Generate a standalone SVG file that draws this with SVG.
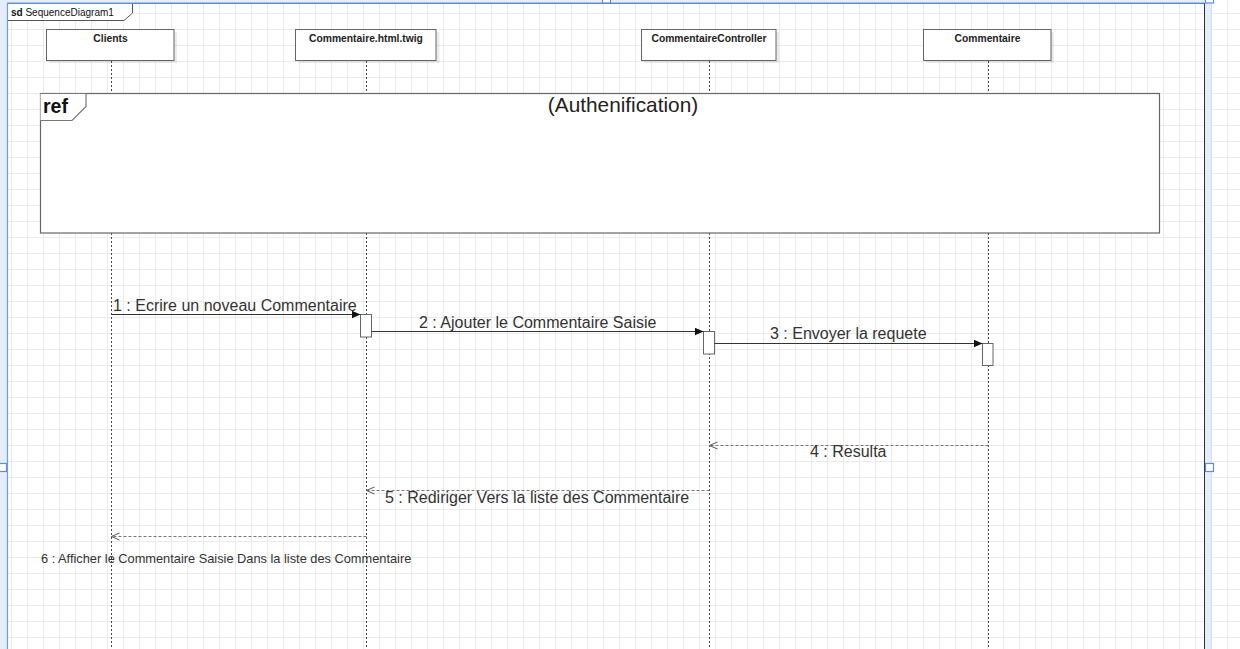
<svg xmlns="http://www.w3.org/2000/svg" width="1240" height="649" viewBox="0 0 1240 649">
<style>
.lbl{font-family:"Liberation Sans",Arial,sans-serif;font-size:16px;fill:#333}
.box{fill:#fff;stroke:#666;stroke-width:1}
.shadow{fill:#000;opacity:0.08}
.ht{font-family:"Liberation Sans",Arial,sans-serif;font-size:10.3px;font-weight:bold;fill:#222;text-anchor:middle}
.life{stroke:#444;stroke-width:1;stroke-dasharray:2,2;fill:none}
.act{fill:#fff;stroke:#666;stroke-width:1}
.msg{stroke:#333;stroke-width:1;fill:none;marker-end:url(#filled)}
.ret{stroke:#777;stroke-width:1;stroke-dasharray:3,2;fill:none;marker-end:url(#open)}
.sel{fill:#e3edfc}
.selLine{stroke:#6f9ee9;stroke-width:1.2;fill:none}
.handle{fill:#fff;stroke:#5b8fe6;stroke-width:1.2}
</style>
<defs>
<pattern id="grid" width="16" height="16" patternUnits="userSpaceOnUse" x="11" y="13">
<rect x="0" y="0" width="1" height="16" fill="#ebebeb"/>
<rect x="0" y="0" width="16" height="1" fill="#ebebeb"/>
</pattern>
<marker id="filled" markerUnits="userSpaceOnUse" markerWidth="9" markerHeight="8" viewBox="0 0 8 7" refX="8" refY="3.5" orient="auto">
<path d="M0,0 L8,3.5 L0,7 z" fill="#111"/>
</marker>
<marker id="open" markerUnits="userSpaceOnUse" markerWidth="10" markerHeight="9" viewBox="-1 -1 10 9" refX="8" refY="3.5" orient="auto">
<path d="M0,0 L8,3.5 L0,7" fill="none" stroke="#555" stroke-width="1"/>
</marker>
</defs>
<rect x="0" y="0" width="1240" height="649" fill="#fff"/>
<rect x="0" y="0" width="1240" height="649" fill="url(#grid)"/>

<g id="frame-sd">
<rect x="7.5" y="3.5" width="1197" height="660" fill="none" stroke="#333" stroke-width="1"/>
<path d="M7.5,3.5 H132.5 V13 L124,20.5 H7.5 Z" fill="#fff" stroke="#555" stroke-width="1"/>
<text x="11" y="15.5" font-family="'Liberation Sans',Arial,sans-serif" font-size="10" fill="#111"><tspan font-weight="bold">sd</tspan> SequenceDiagram1</text>
</g>

<g id="selection">
<rect class="sel" x="0" y="0" width="7" height="649"/>
<rect class="sel" x="0" y="0" width="1212" height="3"/>
<rect class="sel" x="1205" y="0" width="7" height="649"/>
<path class="selLine" d="M7.5,649 V3.2 H1204.5"/>
<path d="M1211.5,0 V649" stroke="#cfe0fa" stroke-width="1"/>
<rect class="handle" x="602.5" y="-5" width="8" height="8"/>
<rect class="handle" x="-1.5" y="463.5" width="8" height="8"/>
<rect class="handle" x="1205.5" y="-5" width="8" height="8"/>
<rect class="handle" x="1205.5" y="463.5" width="8" height="8"/>
</g>

<g id="lifeline-clients">
<rect class="shadow" x="49" y="32" width="128" height="31"/>
<rect class="box" x="46.5" y="29.5" width="127.5" height="31"/>
<text class="ht" x="110.5" y="42">Clients</text>
<line class="life" x1="111.5" y1="61" x2="111.5" y2="649"/>
</g>

<g id="lifeline-twig">
<rect class="shadow" x="298.5" y="32" width="141" height="31"/>
<rect class="box" x="295.5" y="29.5" width="140.5" height="31"/>
<text class="ht" x="366" y="42">Commentaire.html.twig</text>
<line class="life" x1="366.5" y1="61" x2="366.5" y2="649"/>
</g>

<g id="lifeline-controller">
<rect class="shadow" x="644" y="32" width="135" height="31"/>
<rect class="box" x="641.5" y="29.5" width="134.5" height="31"/>
<text class="ht" x="709" y="42">CommentaireController</text>
<line class="life" x1="709.5" y1="61" x2="709.5" y2="649"/>
</g>

<g id="lifeline-commentaire">
<rect class="shadow" x="926" y="32" width="128" height="31"/>
<rect class="box" x="923.5" y="29.5" width="127.5" height="31"/>
<text class="ht" x="987.5" y="42">Commentaire</text>
<line class="life" x1="988.5" y1="61" x2="988.5" y2="649"/>
</g>

<g id="ref-authentification">
<rect x="40.5" y="93.5" width="1119" height="139.5" fill="#fff" stroke="#666" stroke-width="1.2"/>
<path d="M40.5,93.5 H86 V106.5 L72,120.5 H40.5" fill="#fff" stroke="#777" stroke-width="1.2"/>
<text x="43" y="112.5" font-family="'Liberation Sans',Arial,sans-serif" font-size="19.5" font-weight="bold" fill="#111">ref</text>
<text x="623" y="112" text-anchor="middle" font-family="'Liberation Sans',Arial,sans-serif" font-size="20.8" fill="#222">(Authenification)</text>
</g>

<g id="activations">
<rect class="act" x="360.5" y="314.5" width="11" height="22.5"/>
<rect class="act" x="703.5" y="331.5" width="11" height="22.5"/>
<rect class="act" x="982.5" y="343.5" width="10.5" height="22"/>
</g>

<g id="connectors">
<line class="msg" x1="111.5" y1="314.5" x2="360.5" y2="314.5"/>
<text class="lbl" x="113" y="311">1 : Ecrire un noveau Commentaire</text>
<line class="msg" x1="371.5" y1="331.5" x2="703.5" y2="331.5"/>
<text class="lbl" x="419" y="327.5">2 : Ajouter le Commentaire Saisie</text>
<line class="msg" x1="714.5" y1="343.5" x2="982.5" y2="343.5"/>
<text class="lbl" x="770" y="339">3 : Envoyer la requete</text>
<line class="ret" x1="988.5" y1="445.5" x2="709.5" y2="445.5"/>
<text class="lbl" x="810" y="457">4 : Resulta</text>
<line class="ret" x1="709.5" y1="490.5" x2="366.5" y2="490.5"/>
<text class="lbl" x="385" y="503">5 : Rediriger Vers la liste des Commentaire</text>
<line class="ret" x1="366.5" y1="536.5" x2="111.5" y2="536.5"/>
<text class="lbl" x="41" y="563" style="font-size:12.8px">6 : Afficher le Commentaire Saisie Dans la liste des Commentaire</text>
</g>
</svg>
